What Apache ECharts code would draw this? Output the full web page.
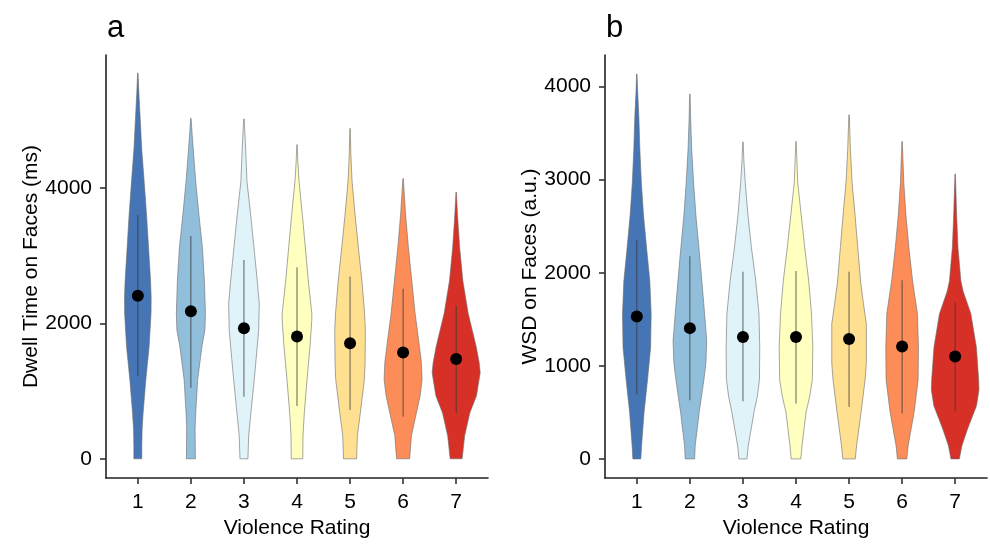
<!DOCTYPE html>
<html>
<head>
<meta charset="utf-8">
<script src="https://cdn.jsdelivr.net/npm/echarts@6/dist/echarts.min.js"></script>
<style>html,body{margin:0;padding:0;background:#fff;}#c{width:990px;height:544px;}</style>
</head>
<body>
<div id="c"></div>
<script>
// ---------- DATA ----------
const categories = [1, 2, 3, 4, 5, 6, 7];
const ticksA = [0, 2000, 4000];
const ticksB = [0, 1000, 2000, 3000, 4000];

// Panel a: Dwell time (ms) — mean and mean±SD
const meanA  = [2410, 2180, 1927, 1805, 1707, 1571, 1473];
const lowerA = [1220, 1049, 917, 780, 722, 624, 673];
const upperA = [3600, 3293, 2937, 2829, 2693, 2512, 2259];

// Panel b: WSD (a.u.) — mean and mean±SD
const meanB  = [1529, 1405, 1310, 1310, 1289, 1207, 1101];
const lowerB = [690, 630, 620, 595, 559, 489, 513];
const upperB = [2354, 2177, 2011, 2018, 2011, 1919, 1682];

// Violin outlines: [value, half-width in category units] (density estimate)
const violinA1 = [[0,.075],[200,.075],[440,.081],[680,.100],[1170,.151],[1660,.213],[2150,.249],[2390,.251],[2630,.240],[3120,.202],[3610,.164],[4100,.119],[4590,.072],[5070,.042],[5400,.020],[5700,.004]];
const violinA2 = [[0,.085],[440,.079],[680,.091],[1170,.128],[1660,.208],[1900,.264],[2150,.274],[2630,.255],[3120,.217],[3610,.151],[4100,.091],[4590,.043],[4800,.023],[5030,.004]];
const violinA3 = [[0,.075],[340,.089],[680,.132],[1170,.194],[1660,.251],[1900,.277],[2290,.289],[2630,.251],[3120,.189],[3610,.126],[4100,.057],[4590,.032],[5020,.004]];
const violinA4 = [[0,.108],[340,.113],[680,.138],[1170,.189],[1660,.245],[2050,.279],[2150,.279],[2630,.213],[3120,.157],[3610,.100],[4100,.038],[4400,.015],[4640,.004]];
const violinA5 = [[0,.123],[340,.138],[680,.194],[1170,.270],[1420,.283],[1900,.289],[2150,.274],[2630,.223],[3120,.157],[3610,.094],[4100,.038],[4500,.015],[4880,.004]];
const violinA6 = [[0,.123],[340,.157],[680,.251],[930,.321],[1170,.358],[1420,.345],[1660,.308],[2150,.226],[2630,.164],[3120,.100],[3610,.047],[4140,.004]];
const violinA7 = [[0,.113],[340,.160],[680,.258],[930,.383],[1270,.453],[1420,.434],[1660,.377],[2150,.226],[2630,.126],[3120,.066],[3610,.025],[3940,.004]];

const violinB1 = [[0,.075],[140,.089],[500,.136],[850,.202],[1200,.260],[1560,.270],[1910,.245],[2270,.183],[2620,.126],[2970,.085],[3330,.057],[3680,.038],[3950,.015],[4135,.004]];
const violinB2 = [[0,.089],[140,.100],[500,.175],[850,.264],[1030,.302],[1270,.317],[1560,.277],[1910,.226],[2270,.170],[2620,.113],[2970,.070],[3330,.034],[3650,.015],[3920,.004]];
const violinB3 = [[0,.075],[140,.100],[500,.208],[670,.270],[850,.311],[1200,.317],[1560,.302],[1910,.242],[2270,.160],[2620,.094],[2970,.043],[3200,.018],[3405,.004]];
const violinB4 = [[0,.091],[140,.113],[500,.189],[670,.258],[850,.308],[1200,.317],[1560,.292],[1910,.240],[2270,.164],[2620,.098],[2970,.032],[3410,.004]];
const violinB5 = [[0,.117],[140,.142],[500,.226],[850,.302],[1030,.326],[1450,.326],[1700,.264],[1910,.217],[2270,.164],[2620,.113],[2970,.057],[3330,.025],[3696,.004]];
const violinB6 = [[0,.089],[140,.113],[500,.226],[850,.302],[1200,.308],[1560,.289],[1910,.198],[2270,.128],[2620,.072],[2970,.032],[3410,.004]];
const violinB7 = [[0,.079],[140,.126],[320,.232],[570,.402],[740,.449],[850,.443],[1200,.400],[1560,.296],[1800,.150],[1910,.108],[2270,.053],[2620,.028],[3062,.004]];

const violinsA = [violinA1, violinA2, violinA3, violinA4, violinA5, violinA6, violinA7];
const violinsB = [violinB1, violinB2, violinB3, violinB4, violinB5, violinB6, violinB7];

// ---------- STYLE ----------
const palette = ['#4575B4', '#91BFDB', '#E0F3F8', '#FFFFBF', '#FEE090', '#FC8D59', '#D73027'];
const FONT = '"Liberation Sans", Arial, Helvetica, sans-serif';
const FS = 21;

function violinSeries(gridIdx, shapes) {
  return {
    type: 'custom',
    xAxisIndex: gridIdx, yAxisIndex: gridIdx,
    data: categories.map(c => [c]),
    encode: { x: 0 },
    renderItem: function (params, api) {
      const c = api.value(0);
      const shp = shapes[c - 1];
      const pts = [];
      for (let i = 0; i < shp.length; i++) pts.push(api.coord([c - shp[i][1], shp[i][0]]));
      for (let i = shp.length - 1; i >= 0; i--) pts.push(api.coord([c + shp[i][1], shp[i][0]]));
      return {
        type: 'polygon',
        shape: { points: pts },
        style: { fill: palette[c - 1], stroke: '#6b6b6b', lineWidth: 0.6 }
      };
    },
    silent: true, z: 2
  };
}
function sdSeries(gridIdx, lo, hi) {
  return {
    type: 'custom',
    xAxisIndex: gridIdx, yAxisIndex: gridIdx,
    data: categories.map((c, i) => [c, lo[i], hi[i]]),
    encode: { x: 0, y: [1, 2] },
    renderItem: function (params, api) {
      const p1 = api.coord([api.value(0), api.value(1)]);
      const p2 = api.coord([api.value(0), api.value(2)]);
      return {
        type: 'line',
        shape: { x1: p1[0], y1: p1[1], x2: p2[0], y2: p2[1] },
        style: { stroke: '#3a3a3a', lineWidth: 0.8 }
      };
    },
    silent: true, z: 3
  };
}
function meanSeries(gridIdx, means) {
  return {
    type: 'scatter',
    xAxisIndex: gridIdx, yAxisIndex: gridIdx,
    data: categories.map((c, i) => [c, means[i]]),
    symbol: 'circle', symbolSize: 12,
    itemStyle: { color: '#000', opacity: 1 },
    silent: true, z: 4
  };
}
function xAxis(gridIdx) {
  return {
    type: 'value', gridIndex: gridIdx, min: 0.4, max: 7.6,
    name: 'Violence Rating', nameLocation: 'middle', nameGap: 38,
    nameTextStyle: { fontSize: FS, color: '#000', fontFamily: FONT },
    axisLine: { show: true, onZero: false, lineStyle: { color: '#222', width: 1.6 } },
    axisTick: { show: true, length: 6, customValues: categories, lineStyle: { color: '#333', width: 1.6 } },
    axisLabel: { customValues: categories, fontSize: FS, color: '#000', fontFamily: FONT, margin: 14,
                 formatter: v => String(v) },
    splitLine: { show: false }
  };
}
function yAxis(gridIdx, min, max, ticks, name, gap) {
  return {
    type: 'value', gridIndex: gridIdx, min: min, max: max,
    name: name, nameLocation: 'middle', nameGap: gap,
    nameTextStyle: { fontSize: FS, color: '#000', fontFamily: FONT },
    axisLine: { show: true, onZero: false, lineStyle: { color: '#222', width: 1.6 } },
    axisTick: { show: true, length: 6, customValues: ticks, lineStyle: { color: '#333', width: 1.6 } },
    axisLabel: { customValues: ticks, fontSize: FS, color: '#000', fontFamily: FONT, margin: 14,
                 formatter: v => String(v) },
    splitLine: { show: false }
  };
}

const chart = echarts.init(document.getElementById('c'), null, { renderer: 'canvas' });
chart.setOption({
  backgroundColor: '#fff',
  animation: false,
  title: [
    { text: 'a', left: 102, top: 8, textStyle: { fontSize: 31, fontWeight: 'normal', color: '#000', fontFamily: FONT } },
    { text: 'b', left: 601, top: 8, textStyle: { fontSize: 31, fontWeight: 'normal', color: '#000', fontFamily: FONT } }
  ],
  grid: [
    { left: 106, right: 502, top: 55, bottom: 61 },
    { left: 605, right: 3, top: 55, bottom: 61 }
  ],
  xAxis: [xAxis(0), xAxis(1)],
  yAxis: [
    yAxis(0, -285, 5965, ticksA, 'Dwell Time on Faces (ms)', 53),
    yAxis(1, -206, 4339, ticksB, 'WSD on Faces (a.u.)', 60)
  ],
  series: [
    violinSeries(0, violinsA), sdSeries(0, lowerA, upperA), meanSeries(0, meanA),
    violinSeries(1, violinsB), sdSeries(1, lowerB, upperB), meanSeries(1, meanB)
  ]
});
</script>
</body>
</html>
